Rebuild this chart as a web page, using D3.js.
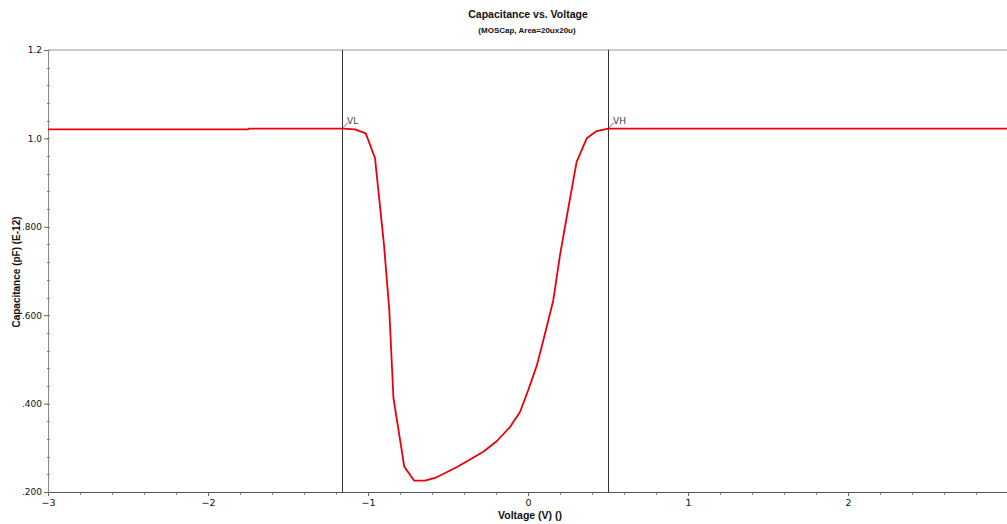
<!DOCTYPE html>
<html>
<head>
<meta charset="utf-8">
<script src="https://cdn.jsdelivr.net/npm/d3@7"></script>
<style>
  body { margin: 0; background: #fff; }
  svg { display: block; }
</style>
</head>
<body>
<script>
'use strict';

// C-V sweep (V, pF)
const voltage = [-3.0, -1.75, -1.745, -1.158, -1.081, -1.014, -0.956, -0.9, -0.867, -0.841, -0.773,
  -0.711, -0.644, -0.581, -0.446, -0.279, -0.194, -0.1125, -0.05, 0.0, 0.056, 0.1125, 0.158,
  0.2, 0.252, 0.304, 0.367, 0.429, 0.502, 3.0];
const capacitance = [1.0205, 1.0205, 1.0222, 1.0222, 1.0206, 1.0115, 0.955, 0.759, 0.612, 0.4127, 0.257,
  0.2256, 0.2256, 0.2317, 0.2559, 0.2912, 0.3154, 0.347, 0.381, 0.429, 0.487, 0.567, 0.634,
  0.736, 0.8425, 0.947, 1.0002, 1.0167, 1.0222, 1.0222];

const xTicks = [-3, -2, -1, 0, 1, 2];
const xTickLabels = ["−3", "−2", "−1", "0", "1", "2"];
const yTicks = [0.2, 0.4, 0.6, 0.8, 1.0, 1.2];
const yTickLabels = [".200", ".400", ".600", ".800", "1.0", "1.2"];

const markerNames = ["VL", "VH"];
const markerV = [-1.1625, 0.5];
const markerC = [1.0222, 1.0222];

window.onload = function() {
  const W = 1007, H = 524;
  const margin = {top: 50, right: -1, bottom: 32, left: 48};

  const svg = d3.select("body").append("svg")
    .attr("width", W)
    .attr("height", H);

  const x = d3.scaleLinear().domain([-3, 3]).range([margin.left, W - margin.right]);
  const y = d3.scaleLinear().domain([0.2, 1.2]).range([H - margin.bottom, margin.top]);

  const tickFont = "DejaVu Sans, Verdana, sans-serif";
  const labelFont = "Liberation Sans, Arial, sans-serif";

  // top border
  svg.append("line")
    .attr("x1", x(-3)).attr("x2", x(3))
    .attr("y1", y(1.2)).attr("y2", y(1.2))
    .style("stroke", "#999").style("stroke-width", 1);

  // minor ticks
  const xMinor = d3.range(-3, 3.001, 0.2);
  svg.append("g").selectAll("line")
    .data(xMinor).enter().append("line")
    .attr("x1", (d) => Math.round(x(d)) + 0.5).attr("x2", (d) => Math.round(x(d)) + 0.5)
    .attr("y1", y(0.2)).attr("y2", y(0.2) + 3)
    .style("stroke", "#888");

  const yMinor = d3.range(0.2, 1.2001, 0.04);
  svg.append("g").selectAll("line")
    .data(yMinor).enter().append("line")
    .attr("x1", x(-3) - 1).attr("x2", x(-3) + 2)
    .attr("y1", (d) => Math.round(y(d)) + 0.5).attr("y2", (d) => Math.round(y(d)) + 0.5)
    .style("stroke", "#888");

  // x axis
  const xAxis = d3.axisBottom(x)
    .tickValues(xTicks)
    .tickSize(4)
    .tickPadding(3)
    .tickFormat((d, i) => xTickLabels[i]);

  const gx = svg.append("g")
    .attr("transform", "translate(0," + y(0.2) + ")")
    .call(xAxis);
  gx.select(".domain").style("stroke", "#555");
  gx.selectAll(".tick line").style("stroke", "#666");
  gx.selectAll("text")
    .style("font-family", tickFont)
    .style("font-size", "9.5px")
    .style("fill", "#111");

  // y axis
  const yAxis = d3.axisLeft(y)
    .tickValues(yTicks)
    .tickSize(4)
    .tickPadding(2)
    .tickFormat((d, i) => yTickLabels[i]);

  const gy = svg.append("g")
    .attr("transform", "translate(" + x(-3) + ",0)")
    .call(yAxis);
  gy.select(".domain").style("stroke", "#888");
  gy.selectAll(".tick line").style("stroke", "#666");
  gy.selectAll("text")
    .style("font-family", tickFont)
    .style("font-size", "9px")
    .style("fill", "#111");

  // marker lines VL / VH
  const markers = svg.append("g").selectAll("g")
    .data(markerNames).enter().append("g");

  markers.append("line")
    .attr("x1", (d, i) => Math.round(x(markerV[i])) + 0.5)
    .attr("x2", (d, i) => Math.round(x(markerV[i])) + 0.5)
    .attr("y1", y(1.2)).attr("y2", y(0.2))
    .style("stroke", "#333").style("stroke-width", 1);

  // curve
  const pts = voltage.map((v, i) => [v, capacitance[i]]);
  const line = d3.line()
    .x((d) => x(d[0]))
    .y((d) => y(d[1]));

  svg.append("path")
    .datum(pts)
    .attr("d", line)
    .style("fill", "none")
    .style("stroke", "#e8000b")
    .style("stroke-width", 1.8)
    .style("stroke-linejoin", "round");

  // marker labels with small leader
  markers.append("line")
    .attr("x1", (d, i) => x(markerV[i]))
    .attr("y1", (d, i) => y(markerC[i]))
    .attr("x2", (d, i) => x(markerV[i]) + 6)
    .attr("y2", (d, i) => y(markerC[i]) - 6)
    .style("stroke", "#666").style("stroke-width", 1);

  markers.append("text")
    .attr("x", (d, i) => x(markerV[i]) + 5)
    .attr("y", (d, i) => y(markerC[i]) - 5)
    .style("font-family", tickFont)
    .style("font-size", "9px")
    .style("fill", "#444")
    .text((d) => d);

  // titles
  svg.append("text")
    .attr("x", 528).attr("y", 18)
    .style("text-anchor", "middle")
    .style("font-family", labelFont)
    .style("font-size", "10.5px")
    .style("font-weight", "bold")
    .style("fill", "#111")
    .text("Capacitance vs. Voltage");

  svg.append("text")
    .attr("x", 527).attr("y", 33)
    .style("text-anchor", "middle")
    .style("font-family", labelFont)
    .style("font-size", "8px")
    .style("font-weight", "bold")
    .style("fill", "#111")
    .text("(MOSCap, Area=20ux20u)");

  // axis labels
  svg.append("text")
    .attr("x", 530).attr("y", 519)
    .style("text-anchor", "middle")
    .style("font-family", labelFont)
    .style("font-size", "10.5px")
    .style("font-weight", "bold")
    .style("fill", "#111")
    .text("Voltage (V) ()");

  svg.append("text")
    .attr("transform", "translate(20," + 272 + ") rotate(-90)")
    .style("text-anchor", "middle")
    .style("font-family", labelFont)
    .style("font-size", "10px")
    .style("font-weight", "bold")
    .style("fill", "#111")
    .text("Capacitance (pF) (E-12)");
};
</script>
</body>
</html>
